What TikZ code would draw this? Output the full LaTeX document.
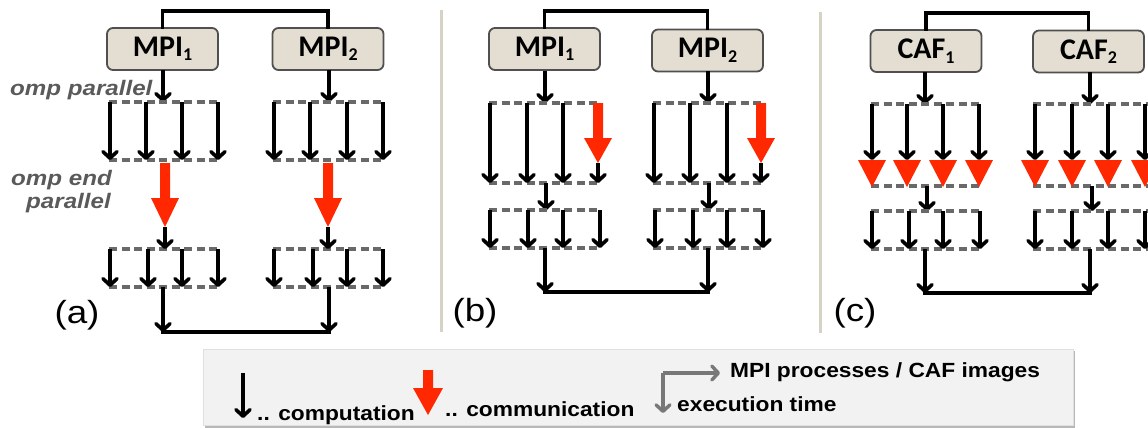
\documentclass[tikz,border=0pt]{standalone}
\usepackage{fontspec}
\setmainfont{Liberation Sans}
\newfontfamily\calib{Carlito}
\usetikzlibrary{arrows.meta}
\definecolor{boxfill}{RGB}{227,222,209}
\definecolor{boxline}{RGB}{80,80,80}
\definecolor{dashgray}{RGB}{105,105,105}
\definecolor{commred}{RGB}{255,40,0}
\definecolor{sepline}{RGB}{214,210,196}
\definecolor{legfill}{RGB}{242,242,242}
\definecolor{labelgray}{RGB}{90,90,90}
\definecolor{axisgray}{RGB}{120,120,120}
% horizontally widened text
\newcommand\hwide[2][1.17]{\scalebox{#1}[1]{#2}}
% process box label with subscript
\newcommand\procname[2]{{\calib\bfseries\fontsize{30}{30}\selectfont #1\raisebox{-4.5pt}{\fontsize{18}{18}\selectfont #2}}}
% thick red communication arrow: x, top, head start, tip, head half-width
\newcommand\commdown[5]{\fill[commred] (#1-5,#2) -- (#1+5,#2) -- (#1+5,#3) -- (#1+#5,#3) -- (#1,#4) -- (#1-#5,#3) -- (#1-5,#3) -- cycle;}
\begin{document}
\begin{tikzpicture}[x=1pt,y=-1pt,
  tip/.style={-{Straight Barb[length=6.5pt,width=14pt,round]}},
  flow/.style={line width=3.6pt, tip},
  link/.style={line width=3.6pt, line cap=rect},
  region/.style={draw=dashgray, line width=3.3pt, dash pattern=on 8pt off 4.5pt},
  procbox/.style={draw=boxline, fill=boxfill, rounded corners=6pt, line width=1.8pt,
                  minimum width=111pt, minimum height=42pt, inner sep=0pt},
  separator/.style={draw=sepline, line width=3pt},
  panellabel/.style={font=\fontsize{32}{32}\selectfont, inner sep=0pt},
  ompnote/.style={font=\fontsize{21}{23}\selectfont\bfseries\itshape, text=labelgray, inner sep=0pt},
  legtext/.style={font=\fontsize{20.5}{20}\selectfont\bfseries, inner sep=0pt, anchor=base west}
]
\useasboundingbox (0,0) rectangle (1148,428);

% ---------------- panel (a): fork/join with OpenMP ----------------
\node[procbox] (MPIa1) at (162.5,49) {\procname{MPI}{1}};
\node[procbox] (MPIa2) at (328,49) {\procname{MPI}{2}};
\coordinate (topa) at (245,11);
\draw[link] (MPIa1.north) |- (topa) -| (MPIa2.north);

\foreach \c/\l/\r/\ta/\tb/\tc/\td/\ua/\ub/\uc/\ud in
  {163/109/219/110/146/182/218/110/148/182/218, 329/273/384/274/310/347/383/274/313/347/383}{
  \coordinate (ain\c) at (\c,102);
  \draw[flow] (\c,70) -- (ain\c);
  \draw[region] (\l,102) -- (\r,102);
  \draw[region] (\l,160) -- (\r,160);
  \foreach \x in {\ta,\tb,\tc,\td} \draw[flow] (\x,102) -- (\x,160);
  \draw[region] (\l,249) -- (\r,249);
  \draw[region] (\l,287) -- (\r,287);
  \foreach \x in {\ua,\ub,\uc,\ud} \draw[flow] (\x,249) -- (\x,287);
}
\commdown{165}{163}{198}{227}{14}
\commdown{328}{163}{198}{227}{14}
\draw[flow] (165,227) -- (165,249);
\draw[flow] (328,227) -- (328,249);
\coordinate (bota1) at (163,332);
\coordinate (bota2) at (329,332);
\draw[link] (bota1) -- (bota2);
\draw[flow] (163,287) -- (bota1);
\draw[flow] (329,287) -- (bota2);

\node[ompnote, anchor=base west] (ompa) at (10,95) {\hwide[1.15]{omp parallel}};
\node[ompnote, anchor=base east] (ompb) at (112,185) {\hwide[1.15]{omp end}};
\node[ompnote, anchor=base east] (ompc) at (111,208) {\hwide[1.15]{parallel}};
\node[panellabel] (laba) at (77,315) {\hwide[1.15]{(a)}};

\draw[separator] (441,10) -- (441,332);

% ---------------- panel (b): MPI inside the parallel region ----------------
\node[procbox] (MPIb1) at (544.5,49) {\procname{MPI}{1}};
\node[procbox] (MPIb2) at (707.5,50.5) {\procname{MPI}{2}};
\coordinate (topb) at (626,11);
\draw[link] (MPIb1.north) |- (topb) -| (MPIb2.north);

\foreach \c/\d/\l/\r/\ta/\tb/\tc/\td/\ua/\ub/\uc/\ud in
  {545/546/489/601/490/527/563/598/490/528/563/600, 708/709/653/764/654/690/727/761/655/693/727/763}{
  \draw[flow] (\c,71) -- (\c,103);
  \draw[region] (\l,103) -- (\r,103);
  \draw[region] (\l,183) -- (\r,183);
  \foreach \x in {\ta,\tb,\tc} \draw[flow] (\x,103) -- (\x,183);
  \commdown{\td}{103}{138}{163}{14}
  \draw[flow] (\td,163) -- (\td,183);
  \draw[flow] (\d,183) -- (\d,210);
  \draw[region] (\l,210) -- (\r,210);
  \draw[region] (\l,248) -- (\r,248);
  \foreach \x in {\ua,\ub,\uc,\ud} \draw[flow] (\x,210) -- (\x,248);
}
\coordinate (botb1) at (545,292);
\coordinate (botb2) at (708,292);
\draw[link] (botb1) -- (botb2);
\draw[flow] (545,248) -- (botb1);
\draw[flow] (708,248) -- (botb2);
\node[panellabel] (labb) at (475,313) {\hwide[1.15]{(b)}};

\draw[separator] (820,12) -- (820,333);

% ---------------- panel (c): coarray images ----------------
\node[procbox] (CAF1) at (926,51) {\procname{CAF}{1}};
\node[procbox] (CAF2) at (1088.5,51.5) {\procname{CAF}{2}};
\coordinate (topc) at (1008,13);
\draw[link] (CAF1.north) |- (topc) -| (CAF2.north);

\foreach \c/\d/\l/\r/\ta/\tb/\tc/\td/\ua/\ub/\uc/\ud in
  {925/927/871/981/872/907/943/979/872/909/943/980, 1090/1092/1033/1152/1035/1072/1108/1145/1035/1072/1108/1145}{
  \draw[flow] (\c,72) -- (\c,104);
  \draw[region] (\l,104) -- (\r,104);
  \draw[region] (\l,186) -- (\r,186);
  \foreach \x in {\ta,\tb,\tc,\td}{
    \draw[flow] (\x,104) -- (\x,160);
    \fill[commred] (\x-14,160) -- (\x+14,160) -- (\x,187) -- cycle;
  }
  \draw[flow] (\d,186) -- (\d,211);
  \draw[region] (\l,211) -- (\r,211);
  \draw[region] (\l,249) -- (\r,249);
  \foreach \x in {\ua,\ub,\uc,\ud} \draw[flow] (\x,211) -- (\x,249);
}
\coordinate (botc1) at (925,293);
\coordinate (botc2) at (1090,293);
\draw[link] (botc1) -- (botc2);
\draw[flow] (925,249) -- (botc1);
\draw[flow] (1090,249) -- (botc2);
\node[panellabel] (labc) at (855,313) {\hwide[1.15]{(c)}};

% ---------------- legend ----------------
\fill[black!28] (205,351) rectangle (1075,427.5);
\fill[legfill, draw=black!12, line width=0.6pt] (203,349) rectangle (1073,425);

\coordinate (kcomp1) at (243,373);
\coordinate (kcomp2) at (243,418);
\draw[flow] (kcomp1) -- (kcomp2);
\node[legtext] (tcomp) at (257,420) {\hwide[1.11]{.. computation}};

\commdown{428}{370}{388}{415}{15}
\node[legtext] (tcomm) at (445,416) {\hwide[1.11]{.. communication}};

\coordinate (kax0) at (663,373);
\coordinate (kax1) at (720,373);
\coordinate (kax2) at (663,413);
\draw[axisgray, line width=3.4pt, tip] (kax0) -- (kax1);
\draw[axisgray, line width=3.4pt, tip] (kax0) -- (kax2);
\node[legtext] (tproc) at (730,377) {\hwide[1.11]{MPI processes / CAF images}};
\node[legtext] (ttime) at (677,411) {\hwide[1.11]{execution time}};
\end{tikzpicture}
\end{document}
